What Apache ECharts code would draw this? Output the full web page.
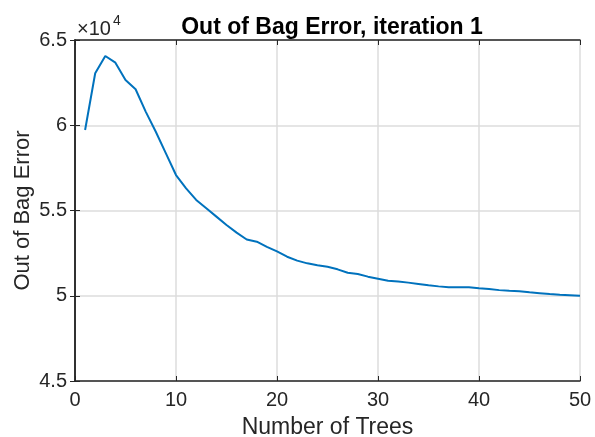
<!DOCTYPE html>
<html>
<head>
<meta charset="utf-8">
<script src="https://cdn.jsdelivr.net/npm/echarts@6/dist/echarts.min.js"></script>
<style>
  html, body { margin: 0; padding: 0; background: #fff; }
  #chart { width: 595px; height: 437px; }
</style>
</head>
<body>
<div id="chart"></div>
<script>
// number of trees 1..50
const trees = [1, 2, 3, 4, 5, 6, 7, 8, 9, 10, 11, 12, 13, 14, 15, 16, 17, 18, 19, 20,
  21, 22, 23, 24, 25, 26, 27, 28, 29, 30, 31, 32, 33, 34, 35, 36, 37, 38, 39, 40,
  41, 42, 43, 44, 45, 46, 47, 48, 49, 50]
const oobError = [59720, 63050, 64060, 63670, 62650, 62110, 60800, 59620, 58350, 57080,
  56300, 55620, 55130, 54640, 54150, 53700, 53300, 53170, 52870, 52600,
  52290, 52060, 51900, 51790, 51700, 51550, 51350, 51280, 51120, 51000,
  50880, 50830, 50770, 50690, 50610, 50550, 50500, 50500, 50500, 50440,
  50390, 50330, 50290, 50270, 50200, 50150, 50100, 50060, 50030, 50000]
const xTicks = [0, 10, 20, 30, 40, 50]

const font = '"Liberation Sans", Arial, sans-serif'
const ink = '#262626'

let chart = echarts.init(document.getElementById('chart'))
chart.setOption({
  animation: false,
  title: {
    text: 'Out of Bag Error, iteration 1',
    left: 327, top: 11, textAlign: 'center',
    textStyle: { fontFamily: font, fontSize: 23, fontWeight: 'bold', color: '#000' }
  },
  // exponent label above the y axis
  graphic: [{
    type: 'text', left: 77, top: 19,
    style: { text: '×10', fontFamily: font, fontSize: 20, fill: ink }
  }, {
    type: 'text', left: 113, top: 14,
    style: { text: '4', fontFamily: font, fontSize: 14, fill: ink }
  }],
  grid: { left: 75, right: 15, top: 40, bottom: 56, outerBoundsMode: 'none' },
  xAxis: [{
    type: 'value', min: 0, max: 50, interval: 10,
    name: 'Number of Trees', nameLocation: 'middle', nameGap: 35, nameMoveOverlap: false,
    nameTextStyle: { fontFamily: font, fontSize: 23, color: ink },
    axisLine: { show: true, lineStyle: { color: ink, width: 1.5 } },
    axisTick: { show: true, inside: true, length: 5, lineStyle: { color: ink } },
    axisLabel: { fontFamily: font, fontSize: 20, color: ink, margin: 9,
      customValues: xTicks },
    splitLine: { show: true, lineStyle: { color: '#dcdcdc', width: 1.5 } }
  }, {
    type: 'value', min: 0, max: 50, interval: 10, position: 'top',
    axisLine: { show: true, lineStyle: { color: ink, width: 1.5 } },
    axisTick: { show: true, inside: true, length: 5, lineStyle: { color: ink } },
    axisLabel: { show: false }, splitLine: { show: false }
  }],
  yAxis: [{
    type: 'value', min: 45000, max: 65000, interval: 5000,
    name: 'Out of Bag Error', nameLocation: 'middle', nameGap: 41, nameMoveOverlap: false,
    nameTextStyle: { fontFamily: font, fontSize: 22, color: ink },
    axisLine: { show: true, lineStyle: { color: ink, width: 1.5 } },
    axisTick: { show: true, inside: true, length: 5, lineStyle: { color: ink } },
    axisLabel: { fontFamily: font, fontSize: 20, color: ink, margin: 8,
      formatter: v => String(v / 10000) },
    splitLine: { show: true, lineStyle: { color: '#dcdcdc', width: 1.5 } }
  }, {
    type: 'value', min: 45000, max: 65000, interval: 5000, position: 'right',
    axisLine: { show: true, lineStyle: { color: ink, width: 1.5 } },
    axisTick: { show: true, inside: true, length: 5, lineStyle: { color: ink } },
    axisLabel: { show: false }, splitLine: { show: false }
  }],
  series: [{
    type: 'line',
    data: trees.map((t, i) => [t, oobError[i]]),
    symbol: 'none',
    lineStyle: { color: '#0072BD', width: 2 },
    z: 3
  }]
})
</script>
</body>
</html>
